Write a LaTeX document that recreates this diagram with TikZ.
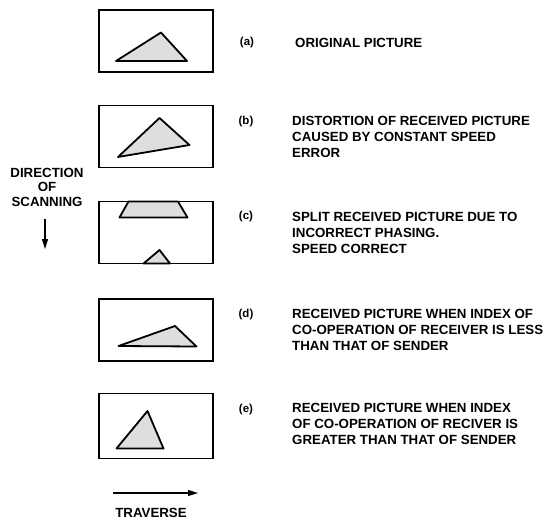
\documentclass[tikz,border=0pt]{standalone}
\usepackage{fontspec}
\setmainfont{Liberation Sans}
\usetikzlibrary{arrows.meta,positioning}

\begin{document}
\begin{tikzpicture}[
    x=1pt, y=-1pt,
    every node/.style={font=\bfseries\fontsize{13.3}{15.8}\selectfont},
    frame/.style={draw, line width=1.6pt, minimum width=114pt, minimum height=62pt, inner sep=0pt},
    blot/.style={draw, line width=1.8pt, line join=round, fill=black!13},
    tag/.style={font=\bfseries\fontsize{11.5}{13}\selectfont, inner sep=0pt},
    desc/.style={align=left, anchor=north west, inner sep=0pt},
    flow/.style={-{Triangle[length=10pt, width=6pt]}, line width=1.5pt}
]
\useasboundingbox (0,0) rectangle (551,519);
% picture frames
\node[frame] (pa) at (156,41) {};
\node[frame] (pb) at (156,136.5) {};
\node[frame] (pc) at (156,232.5) {};
\node[frame] (pd) at (156,330) {};
\node[frame, minimum height=65pt] (pe) at (156,426) {};
% the received triangles
\draw[blot] (116,61) -- (161,32.5) -- (187,61) -- cycle;
\draw[blot] (118,157) -- (159.5,118) -- (189.5,145) -- cycle;
\draw[blot] (128.5,201.5) -- (178,201.5) -- (187.5,217.5) -- (119.5,217.5) -- cycle;
\draw[blot] (143.5,263.5) -- (159.5,250) -- (170,263.5) -- cycle;
\draw[blot] (118.5,346) -- (175,326) -- (196.5,346.5) -- cycle;
\draw[blot] (116.5,448.5) -- (147.5,411) -- (163.5,448.5) -- cycle;
% labels
\node[tag] (la) at (247,43) {(a)};
\node[tag] (lb) at (246,122) {(b)};
\node[tag] (lc) at (246,217) {(c)};
\node[tag] (ld) at (246,314.5) {(d)};
\node[tag] (le) at (246,409.5) {(e)};
\node[desc] (da) at (295,38.5) {ORIGINAL PICTURE};
\node[desc] (db) at (292,116.5) {DISTORTION OF RECEIVED PICTURE\\CAUSED BY CONSTANT SPEED\\ERROR};
\node[desc] (dc) at (292,212.5) {SPLIT RECEIVED PICTURE DUE TO\\INCORRECT PHASING.\\SPEED CORRECT};
\node[desc] (dd) at (292,309) {RECEIVED PICTURE WHEN INDEX OF\\CO-OPERATION OF RECEIVER IS LESS\\THAN THAT OF SENDER};
\node[desc] (de) at (292,403.5) {RECEIVED PICTURE WHEN INDEX\\OF CO-OPERATION OF RECIVER IS\\GREATER THAN THAT OF SENDER};
% directions
\node[align=center, font=\bfseries\fontsize{13.3}{14.5}\selectfont] (scan) at (47,187) {DIRECTION\\OF\\SCANNING};
\coordinate (scantop) at (45,219);
\coordinate (scanend) at (45,249);
\draw[flow] (scantop) -- (scanend);
\coordinate (trvtop) at (113,493);
\coordinate (trvend) at (198,493);
\draw[flow] (trvtop) -- (trvend);
\node (trv) at (151,513) {TRAVERSE};
\end{tikzpicture}
\end{document}
